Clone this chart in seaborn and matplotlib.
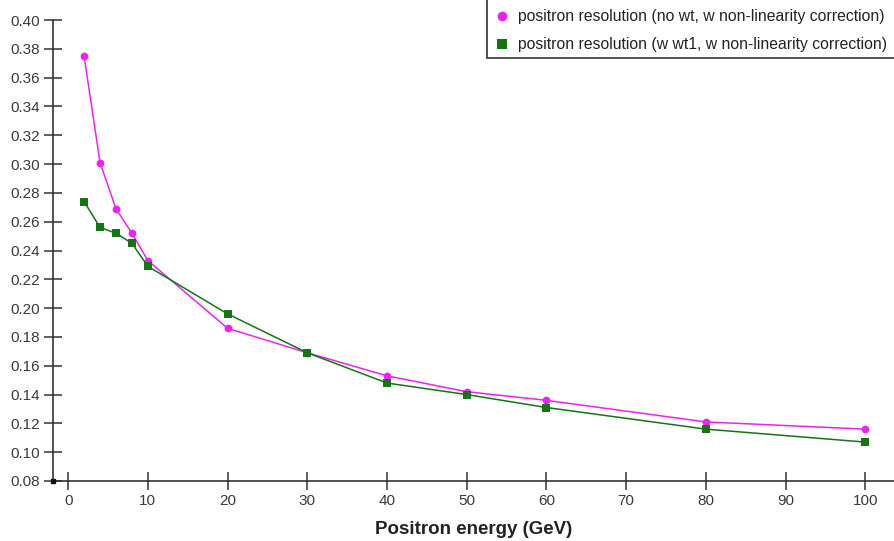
import matplotlib
matplotlib.use("Agg")
import matplotlib.pyplot as plt
from matplotlib.lines import Line2D
from matplotlib.patches import Rectangle
import seaborn as sns
import pandas as pd

energy = [2, 4, 6, 8, 10, 20, 30, 40, 50, 60, 80, 100]
res_no_wt = [0.375, 0.301, 0.269, 0.252, 0.233, 0.186, 0.169, 0.153, 0.142, 0.136, 0.121, 0.116]
res_wt1 = [0.274, 0.256, 0.252, 0.245, 0.229, 0.196, 0.169, 0.148, 0.140, 0.131, 0.116, 0.107]

label_a = "positron resolution (no wt, w non-linearity correction)"
label_b = "positron resolution (w wt1, w non-linearity correction)"
series_names = [label_a, label_b]
colors = {label_a: "#ee22ee", label_b: "#157515"}
markers = {label_a: "o", label_b: "s"}

df = pd.concat([
    pd.DataFrame({"energy": energy, "res": res_no_wt, "series": label_a}),
    pd.DataFrame({"energy": energy, "res": res_wt1, "series": label_b}),
])

sns.set_theme(style="white")
plt.rcParams["font.family"] = ["Liberation Sans", "DejaVu Sans"]

fig = plt.figure(figsize=(8.94, 5.41), dpi=100)
ax = fig.add_axes([53 / 894, 60 / 541, 1 - 53 / 894, 461 / 541])

sns.lineplot(data=df, x="energy", y="res", hue="series", style="series",
             palette=colors, markers=markers, dashes=False, markersize=5.6,
             markeredgewidth=0, linewidth=1.1, ax=ax, legend=False)

ax.set_xlim(-1.9, 103.6)
ax.set_ylim(0.08, 0.40)
ax.set_xticks(range(0, 101, 10))
ax.set_yticks([0.08 + 0.02 * i for i in range(17)])
ax.set_yticklabels([f"{0.08 + 0.02 * i:.2f}" for i in range(17)])

for side in ("top", "right"):
    ax.spines[side].set_visible(False)
for side in ("left", "bottom"):
    ax.spines[side].set_color("#333333")
    ax.spines[side].set_linewidth(1.2)

ax.tick_params(axis="both", direction="inout", length=13, width=1.1,
               color="#333333", labelsize=11, labelcolor="#3a3a3a",
               left=True, bottom=True, pad=3)
ax.set_xlabel("Positron energy (GeV)", fontsize=13.5, fontweight="bold",
              color="#222222", labelpad=9)
ax.set_ylabel("")

# small corner marker at the origin of the axes
ax.plot([-1.9], [0.08], marker="s", markersize=3, color="#111111",
        clip_on=False, zorder=5)

# legend box runs off the top and right edges of the figure
fig.patches.append(Rectangle((487 / 894, 1 - 58 / 541), 0.6, 0.6,
                             transform=fig.transFigure, facecolor="white",
                             edgecolor="#333333", linewidth=1.2, zorder=4))

handles = [Line2D([], [], linestyle="none", marker=markers[n], color=colors[n],
                  markersize=7, markeredgewidth=0) for n in series_names]
leg = fig.legend(handles, series_names, loc="lower left",
                 bbox_to_anchor=(487 / 894, 1 - 61 / 541), fontsize=11.3,
                 frameon=False, handlelength=0.8, handletextpad=0.6,
                 borderpad=0.55, labelspacing=0.85, borderaxespad=0)
leg.set_zorder(5)
for t in leg.get_texts():
    t.set_color("#222222")

fig.savefig("out.png", dpi=100)
